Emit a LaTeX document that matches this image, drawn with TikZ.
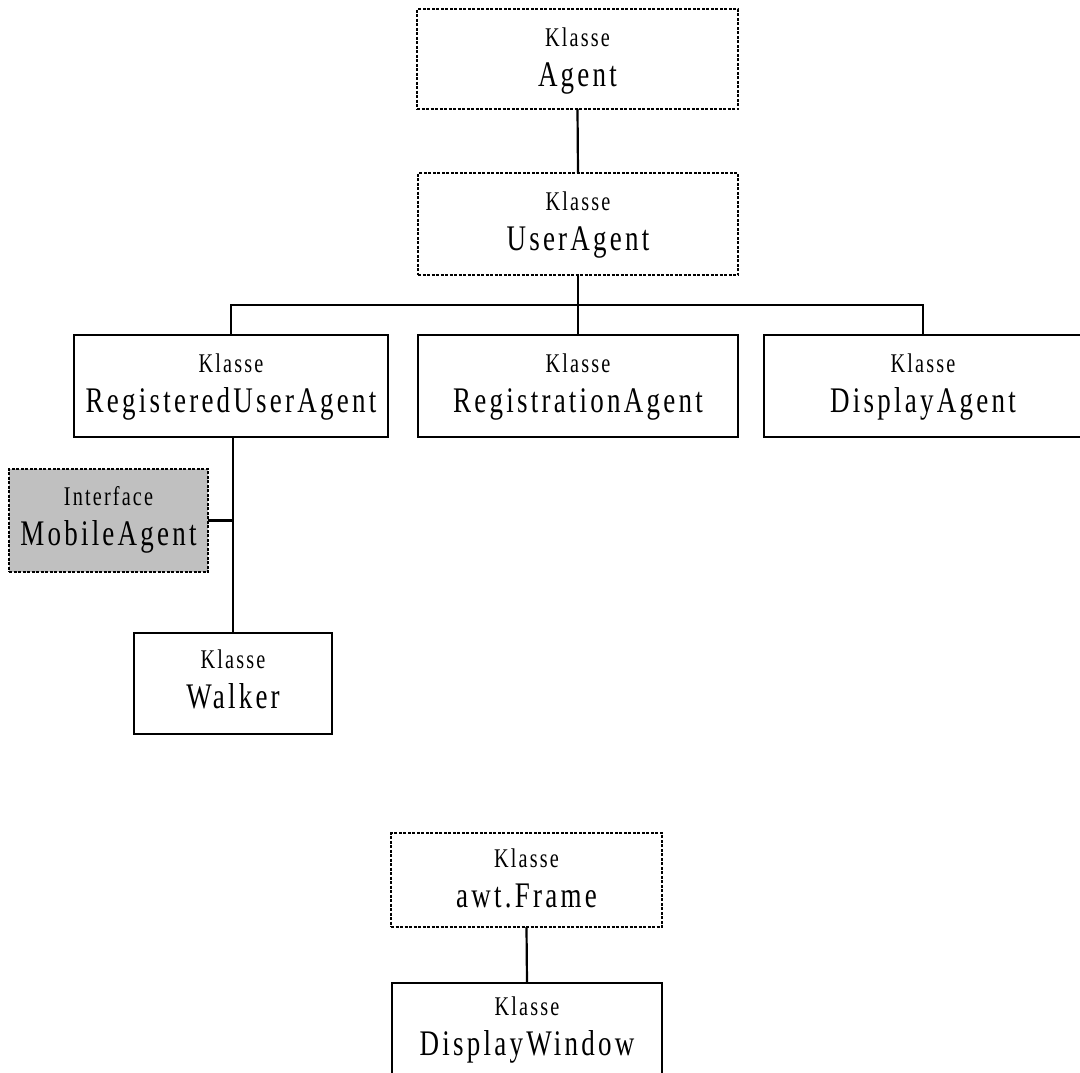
\documentclass[tikz,border=0pt]{standalone}
\usepackage{fontspec}
\setmainfont{Liberation Serif}
\newfontfamily\namefont[FakeStretch=0.75,LetterSpace=9]{Liberation Serif}
\newfontfamily\kindfont[FakeStretch=0.75,LetterSpace=8]{Liberation Serif}
\definecolor{ifacegray}{HTML}{C0C0C0}

% box from (x1,y1) to (x2,y2) with a kind line and a name line; y grows downward
% #1 node name, #2 style, #3 x1, #4 y1, #5 x2, #6 y2, #7 kind, #8 class name, #9 baseline offset
\newcommand\umlclass[9]{%
  \pgfmathsetmacro\ucx{(#3+#5)/2}%
  \pgfmathsetmacro\ucy{(#4+#6)/2}%
  \pgfmathsetmacro\ucw{#5-#3}%
  \pgfmathsetmacro\uch{#6-#4}%
  \node[#2, minimum width=\ucw pt, minimum height=\uch pt] (#1) at (\ucx,\ucy) {};
  \pgfmathsetmacro\uka{#4+#9}%
  \node[kindlabel] (#1-kind) at (\ucx,\uka) {#7};
  \pgfmathsetmacro\unb{#4+#9+40}%
  \node[namelabel] (#1-name) at (\ucx,\unb) {#8};
}

\begin{document}
\begin{tikzpicture}[x=1pt,y=-1pt,
  boxbase/.style={rectangle, inner sep=0pt, outer sep=0pt, line width=2.2pt},
  classbox/.style={boxbase, draw=black, fill=white},
  abstractbox/.style={boxbase, draw=black, fill=white, line width=2pt, dash pattern=on 3pt off 1.5pt},
  ifacebox/.style={boxbase, draw=black, fill=ifacegray, line width=2pt, dash pattern=on 3pt off 1.5pt},
  kindlabel/.style={anchor=base, inner sep=0pt, font=\kindfont\fontsize{27}{27}\selectfont},
  namelabel/.style={anchor=base, inner sep=0pt, font=\namefont\fontsize{36}{36}\selectfont},
  link/.style={draw=black, line width=2.2pt}]
\useasboundingbox (0,0) rectangle (1080,1072);
\clip (0,0) rectangle (1080,1072);

% agent hierarchy
\umlclass{agent}{abstractbox}{417}{9}{738}{109}{Klasse}{Agent}{37}
\umlclass{ua}{abstractbox}{418}{173}{738}{275}{Klasse}{UserAgent}{37}
\umlclass{rua}{classbox}{74}{335}{388}{437}{Klasse}{RegisteredUserAgent}{37}
\umlclass{reg}{classbox}{418}{335}{738}{437}{Klasse}{RegistrationAgent}{37}
\umlclass{da}{classbox}{764}{335}{1082}{437}{Klasse}{DisplayAgent}{37}
\umlclass{ma}{ifacebox}{9}{469}{208}{572}{Interface}{MobileAgent}{36}
\umlclass{wk}{classbox}{134}{633}{332}{734}{Klasse}{Walker}{35}

% window hierarchy
\umlclass{frame}{abstractbox}{391}{833}{662}{927}{Klasse}{awt.Frame}{34}
\umlclass{dw}{classbox}{392}{983}{662}{1095}{Klasse}{DisplayWindow}{32}

% connectors
\draw[link] (agent.south) -- (ua.north);
\draw[link] (ua.south) -- (reg.north);
\draw[link] (rua.north) -- ++(0,-30) -| (da.north);
\draw[link] (wk.north |- rua.south) -- (wk.north);
\draw[link] (ma.east) -- (ma.east -| wk.north);
\draw[link] (frame.south) -- (dw.north);
\end{tikzpicture}
\end{document}
